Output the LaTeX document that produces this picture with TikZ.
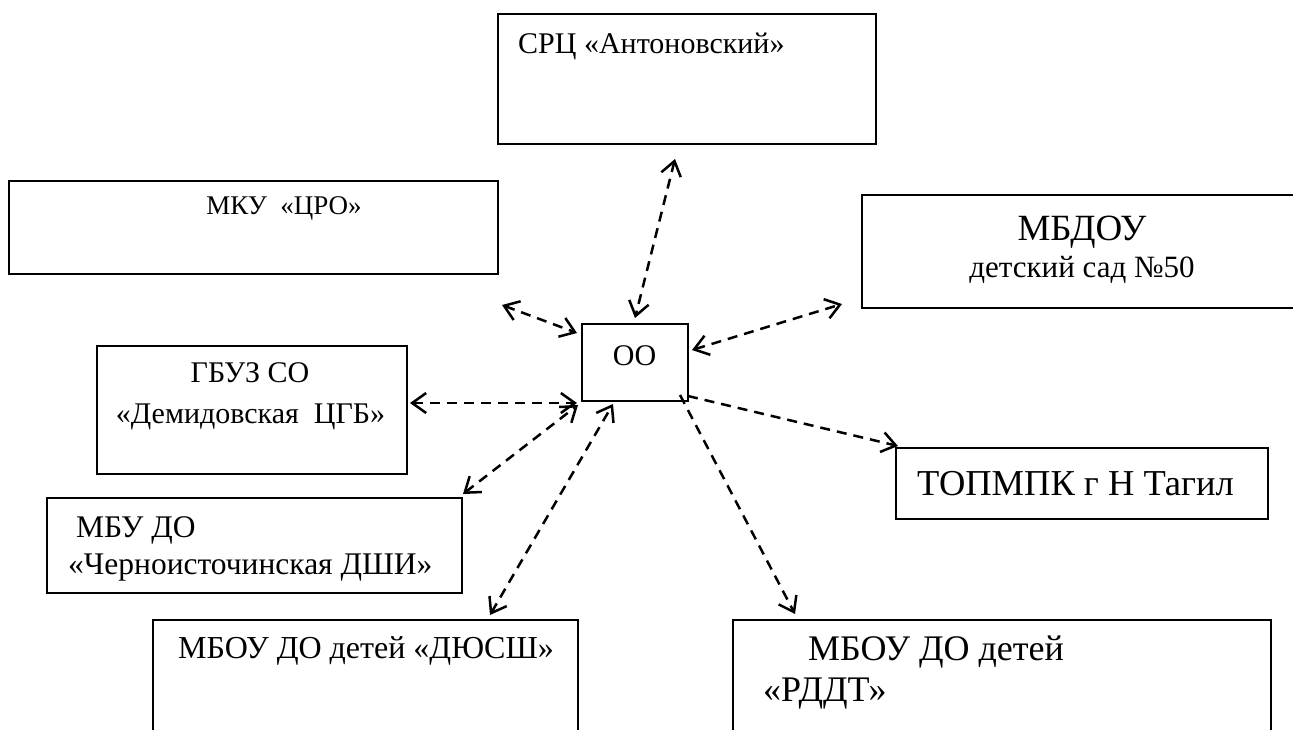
\documentclass[tikz,border=0pt]{standalone}
\usepackage{fontspec}
\setmainfont{Liberation Serif}
\usetikzlibrary{arrows.meta}

\begin{document}
\begin{tikzpicture}[x=1pt,y=-1pt,
                        frame/.style={shape=rectangle,draw,line width=1.8pt,anchor=north west,inner sep=0pt},
                        label/.style={inner sep=0pt},
                        link/.style={line width=2.5pt,dash pattern=on 10pt off 7pt},
                        >={Straight Barb[length=14pt,width=20pt]}
                        ]
                        \path[use as bounding box,clip] (0,0) rectangle (1293,729);
                        %Mitte: OO
                        \node [frame,minimum width=106,minimum height=77] (oo) at (581,323) {};
                        \node [label,anchor=base] (ootext) at (634.5,365) {\fontsize{30}{34}\selectfont ОО};
                        %oben: SRC
                        \node [frame,minimum width=378,minimum height=130] (src) at (497,13) {};
                        \node [label,anchor=base west] (srctext) at (518,53) {\fontsize{30}{34}\selectfont СРЦ «Антоновский»};
                        %links oben: MKU
                        \node [frame,minimum width=489,minimum height=93] (mku) at (8,180) {};
                        \node [label,anchor=base] (mkutext) at (284,214) {\fontsize{27}{31}\selectfont МКУ\ \ «ЦРО»};
                        %rechts oben: MBDOU
                        \node [frame,minimum width=460,minimum height=113] (mbdou) at (861,194) {};
                        \node [label,anchor=base] (mbdoutext) at (1082,240) {\fontsize{37}{42}\selectfont МБДОУ};
                        \node [label,anchor=base] (mbdousub) at (1082,277) {\fontsize{31}{35}\selectfont детский сад №50};
                        %links: GBUZ
                        \node [frame,minimum width=310,minimum height=128] (gbuz) at (96,345) {};
                        \node [label,anchor=base] (gbuztext) at (250,382) {\fontsize{30}{34}\selectfont ГБУЗ СО};
                        \node [label,anchor=base] (gbuzsub) at (250.5,423) {\fontsize{30}{34}\selectfont «Демидовская\ \ ЦГБ»};
                        %rechts: TOPMPK
                        \node [frame,minimum width=372,minimum height=71] (topmpk) at (895,447) {};
                        \node [label,anchor=base west] (topmpktext) at (917,495) {\fontsize{36.5}{41}\selectfont ТОПМПК г Н Тагил};
                        %links unten: MBU DO
                        \node [frame,minimum width=415,minimum height=95] (mbudo) at (46,497) {};
                        \node [label,anchor=base west] (mbudotext) at (76,537) {\fontsize{31.5}{36}\selectfont МБУ ДО};
                        \node [label,anchor=base west] (mbudosub) at (68,574) {\fontsize{31.5}{36}\selectfont «Черноисточинская ДШИ»};
                        %unten: DYuSSh
                        \node [frame,minimum width=425,minimum height=130] (dyussh) at (152,619) {};
                        \node [label,anchor=base west] (dyusshtext) at (178,658) {\fontsize{32}{36}\selectfont МБОУ ДО детей «ДЮСШ»};
                        %unten rechts: RDDT
                        \node [frame,minimum width=538,minimum height=130] (rddt) at (732,619) {};
                        \node [label,anchor=base west] (rddttext) at (808,660) {\fontsize{36}{41}\selectfont МБОУ ДО детей};
                        \node [label,anchor=base west] (rddtsub) at (763,701) {\fontsize{36}{41}\selectfont «РДДТ»};
                        %Enden der Pfeile
                        \coordinate (srcend) at (675,159);
                        \coordinate (ootop) at (635,318);
                        \coordinate (mkuend) at (502,305);
                        \coordinate (oonw) at (577,333);
                        \coordinate (mbdouend) at (842,304);
                        \coordinate (ooeast) at (692,350);
                        \coordinate (gbuzend) at (410,403);
                        \coordinate (oosw) at (577,403);
                        \coordinate (mbudoend) at (463,494);
                        \coordinate (oosw2) at (578,405);
                        \coordinate (dyusshend) at (490,615);
                        \coordinate (oosouth) at (613,404);
                        \coordinate (oose) at (680,395);
                        \coordinate (rddtend) at (795,614);
                        \coordinate (ooeast2) at (688,396);
                        \coordinate (topmpkend) at (898,446);
                        %Pfeile
                        \draw [link,<->] (srcend) -- (ootop);
                        \draw [link,<->] (mkuend) -- (oonw);
                        \draw [link,<->] (ooeast) -- (mbdouend);
                        \draw [link,<->] (gbuzend) -- (oosw);
                        \draw [link,<->] (mbudoend) -- (oosw2);
                        \draw [link,<->] (dyusshend) -- (oosouth);
                        \draw [link,->] (oose) -- (rddtend);
                        \draw [link,->] (ooeast2) -- (topmpkend);
                \end{tikzpicture}
\end{document}
